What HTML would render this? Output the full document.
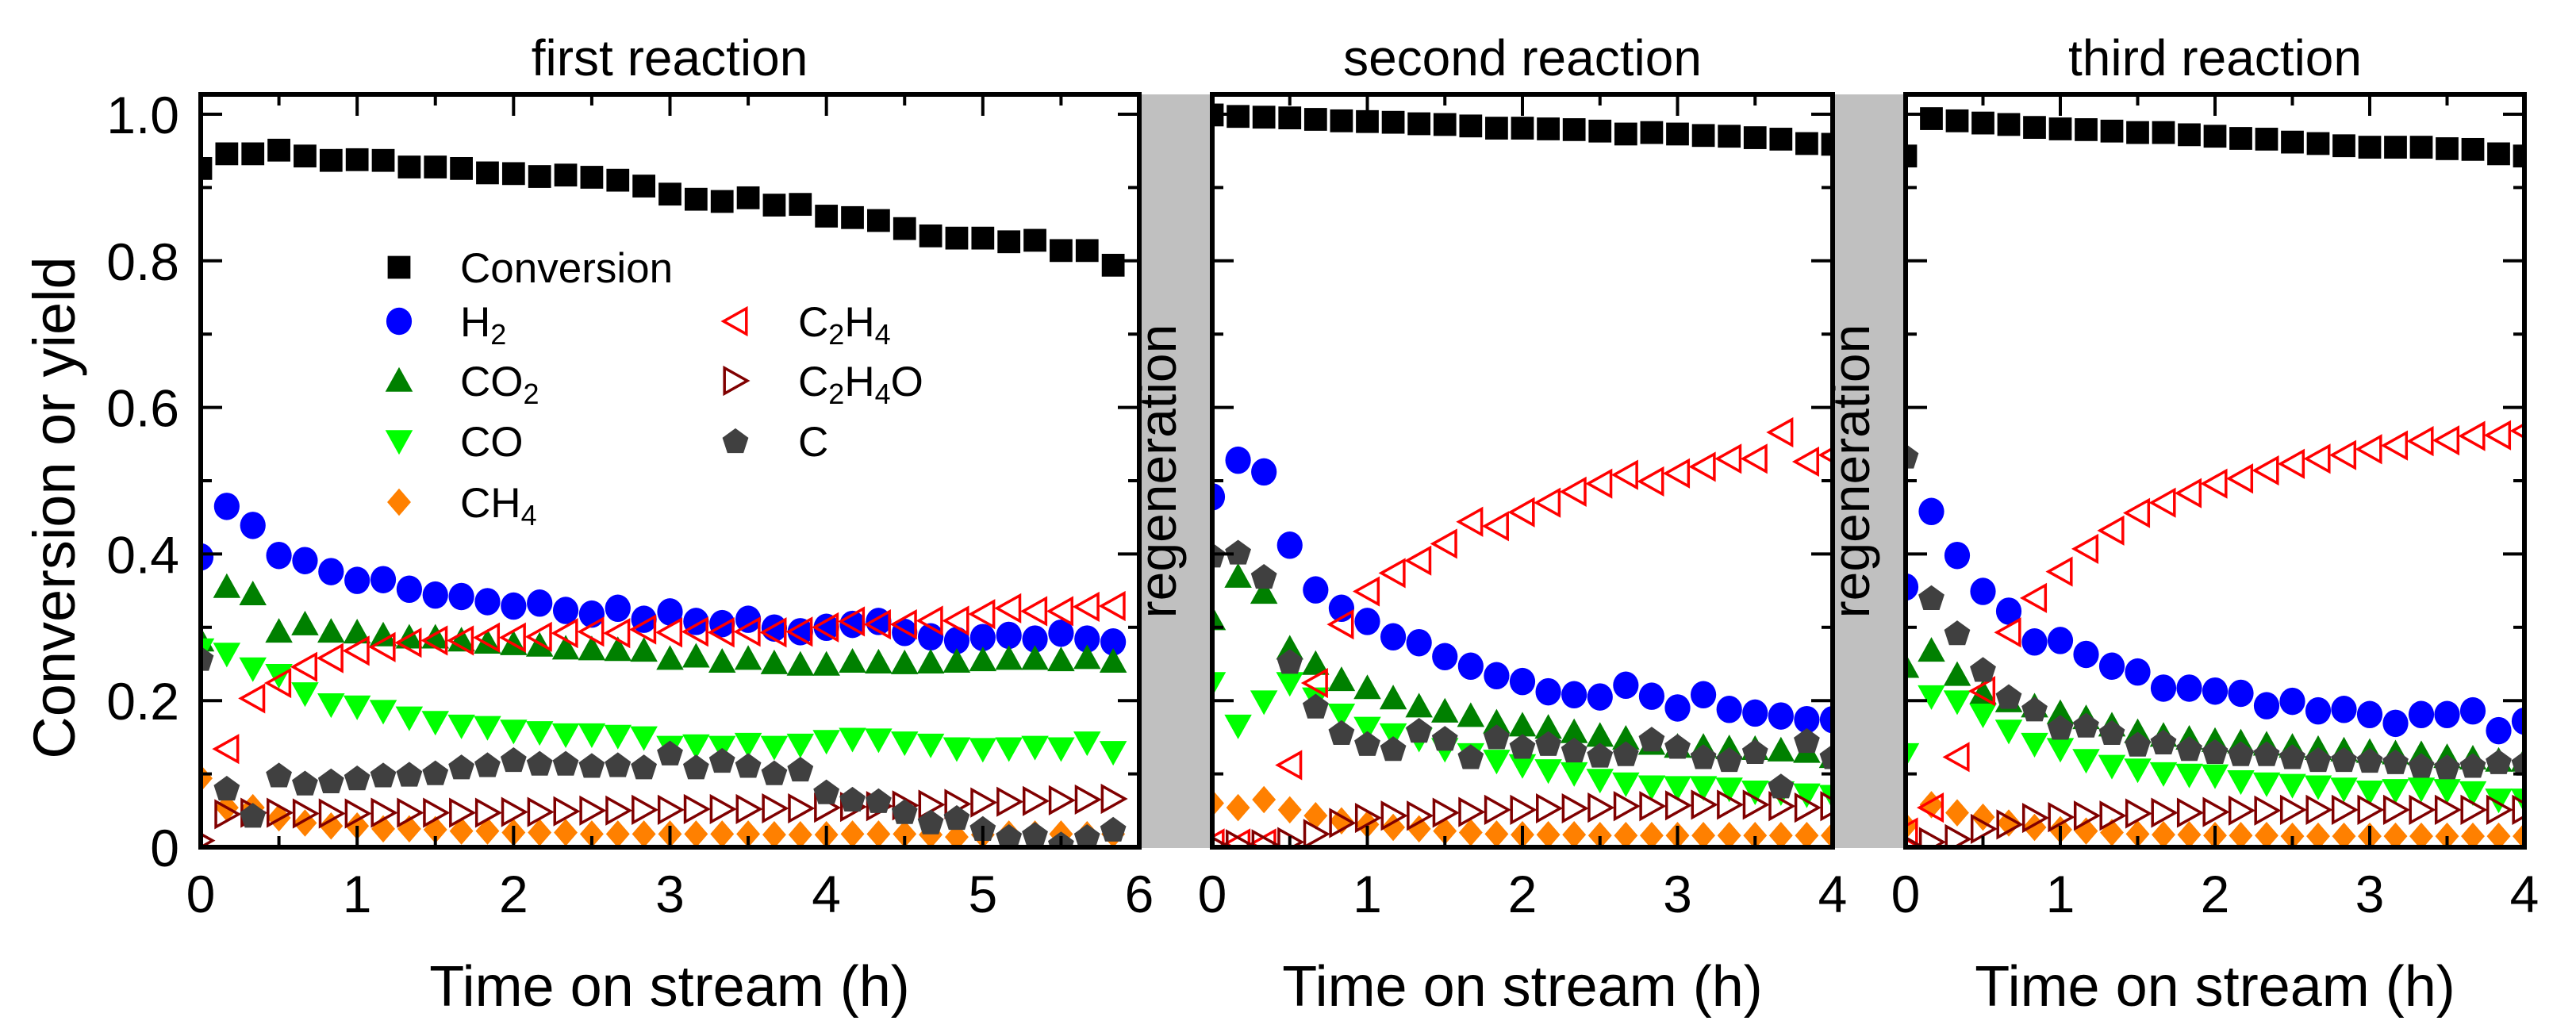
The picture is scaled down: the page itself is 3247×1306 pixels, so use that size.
<!DOCTYPE html>
<html><head><meta charset="utf-8"><style>
html,body{margin:0;padding:0;background:#fff;width:3247px;height:1306px;overflow:hidden}
svg text{font-family:"Liberation Sans",Arial,sans-serif}
</style></head><body>
<svg id="chart" xmlns="http://www.w3.org/2000/svg" width="3247" height="1306" viewBox="0 0 3247 1306">
<rect x="1436" y="119" width="92" height="950" fill="#c0c0c0"/>
<rect x="2310" y="119" width="92" height="950" fill="#c0c0c0"/>
<text x="1504" y="616" font-size="66" text-anchor="middle" transform="rotate(-90 1482 616)">regeneration</text>
<text x="2378" y="616" font-size="66" text-anchor="middle" transform="rotate(-90 2356 616)">regeneration</text>
<text x="844" y="95" font-size="64" text-anchor="middle">first reaction</text>
<text x="1919" y="95" font-size="64" text-anchor="middle">second reaction</text>
<text x="2792" y="95" font-size="64" text-anchor="middle">third reaction</text>
<text x="844" y="1268" font-size="72" text-anchor="middle">Time on stream (h)</text>
<text x="1919" y="1268" font-size="72" text-anchor="middle">Time on stream (h)</text>
<text x="2792" y="1268" font-size="72" text-anchor="middle">Time on stream (h)</text>
<text x="0" y="0" font-size="74" text-anchor="middle" transform="translate(94 640) rotate(-90)">Conversion or yield</text>
<g id="plots"></g>
<g id="legend"></g>
</svg>
<script>
// ---------- data ----------
const seriesNames = ["Conversion","H2","CO2","CO","CH4","C2H4","C2H4O","C"];
const p1Conversion = [.926,.946,.946,.951,.943,.937,.938,.937,.928,.928,.926,.920,.919,.915,.917,.914,.910,.902,.891,.884,.881,.886,.876,.877,.861,.859,.855,.844,.834,.831,.831,.826,.828,.814,.814,.794];
const p1H2 = [.396,.465,.439,.398,.391,.376,.364,.365,.352,.344,.342,.335,.329,.333,.323,.318,.326,.311,.321,.308,.305,.311,.299,.294,.300,.304,.308,.293,.287,.282,.286,.289,.284,.292,.284,.280];
const p1CO2 = [.282,.355,.345,.294,.304,.294,.293,.289,.286,.286,.282,.279,.277,.275,.271,.270,.269,.268,.257,.260,.253,.257,.251,.249,.249,.253,.252,.251,.252,.253,.255,.257,.257,.255,.258,.253];
const p1CO = [.270,.264,.244,.235,.210,.195,.192,.186,.177,.171,.166,.164,.159,.157,.154,.154,.152,.150,.137,.139,.137,.141,.137,.140,.145,.148,.147,.143,.140,.135,.134,.135,.137,.135,.143,.130];
const p1CH4 = [.094,.054,.054,.040,.033,.029,.029,.025,.025,.024,.022,.022,.020,.020,.020,.018,.018,.018,.018,.018,.018,.018,.017,.017,.017,.018,.018,.018,.017,.014,.017,.018,.018,.018,.017,.018];
const p1C2H4 = [null,.134,.203,.224,.246,.258,.268,.273,.279,.282,.282,.286,.286,.287,.292,.294,.292,.297,.293,.294,.293,.294,.293,.294,.300,.308,.304,.304,.309,.309,.318,.326,.322,.322,.328,.329];
const p1C2H4O = [.009,.045,.047,.047,.046,.046,.046,.047,.047,.047,.047,.047,.048,.048,.049,.050,.050,.051,.051,.052,.052,.052,.053,.053,.054,.055,.056,.057,.058,.059,.061,.062,.063,.064,.065,.066];
const p1C = [.257,.080,.043,.098,.087,.090,.094,.098,.099,.101,.109,.112,.119,.114,.114,.111,.112,.109,.128,.109,.118,.111,.101,.106,.075,.065,.063,.048,.034,.040,.025,.014,.017,.004,.014,.024];

const p2Conversion = [.999,.997,.996,.995,.993,.991,.990,.989,.987,.986,.984,.981,.981,.980,.979,.977,.973,.975,.973,.971,.970,.968,.966,.960,.959];
const p2H2 = [.478,.528,.512,.412,.351,.326,.308,.287,.279,.260,.247,.234,.226,.212,.208,.205,.221,.206,.190,.208,.188,.183,.179,.174,.174];
const p2CO2 = [.311,.369,.347,.271,.250,.228,.217,.203,.192,.185,.179,.170,.166,.163,.157,.152,.148,.141,.137,.137,.135,.134,.132,.130,.123];
const p2CO = [.224,.166,.199,.224,.203,.181,.163,.154,.148,.134,.127,.118,.112,.105,.101,.092,.087,.083,.082,.082,.080,.076,.075,.072,.070];
const p2CH4 = [.060,.054,.065,.051,.043,.036,.031,.027,.025,.022,.020,.018,.017,.017,.017,.016,.016,.016,.016,.016,.016,.016,.016,.016,.016];
const p2C2H4 = [.005,.005,.005,.112,.224,.304,.349,.374,.391,.414,.444,.438,.457,.470,.485,.496,.508,.499,.510,.519,.530,.530,.566,.526,.535];
const p2C2H4O = [.004,.004,.004,.007,.018,.033,.040,.043,.043,.047,.048,.051,.051,.053,.053,.054,.056,.056,.057,.058,.058,.058,.056,.054,.056];
const p2C = [.398,.402,.369,.253,.192,.156,.141,.134,.159,.148,.123,.150,.137,.141,.132,.125,.127,.147,.137,.123,.119,.130,.083,.145,.123];

const p3Conversion = [.943,.994,.991,.988,.986,.982,.980,.979,.977,.975,.975,.972,.970,.967,.966,.962,.960,.957,.955,.955,.955,.953,.952,.946,.943];
const p3H2 = [.355,.458,.398,.349,.322,.280,.282,.263,.247,.239,.217,.217,.213,.210,.193,.199,.186,.188,.181,.169,.181,.181,.186,.159,.172];
const p3CO2 = [.246,.268,.235,.210,.199,.192,.183,.176,.166,.157,.152,.148,.145,.143,.140,.137,.134,.132,.130,.128,.127,.123,.121,.118,.118];
const p3CO = [.127,.206,.199,.181,.159,.141,.134,.119,.111,.106,.101,.099,.098,.090,.087,.085,.083,.080,.076,.078,.080,.078,.075,.065,.065];
const p3CH4 = [.029,.058,.047,.041,.033,.027,.024,.022,.020,.018,.017,.017,.016,.016,.016,.015,.015,.015,.015,.015,.015,.015,.015,.015,.015];
const p3C2H4 = [.020,.054,.123,.213,.293,.340,.376,.407,.432,.456,.470,.483,.496,.503,.514,.523,.530,.535,.543,.548,.554,.555,.561,.562,.568];
const p3C2H4O = [.004,.007,.011,.025,.031,.040,.041,.043,.043,.046,.047,.047,.048,.050,.050,.051,.051,.051,.051,.051,.051,.051,.051,.051,.051];
const p3C = [.533,.340,.292,.242,.205,.188,.163,.166,.156,.140,.143,.134,.130,.127,.127,.123,.119,.119,.118,.116,.111,.109,.111,.116,.114];

const timeStep = 1/6;
const yTicks = [0,0.2,0.4,0.6,0.8,1.0];
const yTickLabels = ["0","0.2","0.4","0.6","0.8","1.0"];
const xTicks1 = [0,1,2,3,4,5,6];
const xTicks23 = [0,1,2,3,4];

// ---------- rendering ----------
const NS = "http://www.w3.org/2000/svg";
const svg = document.getElementById('chart');
const plots = document.getElementById('plots');
function mk(tag, attrs, parent){
  const e = document.createElementNS(NS, tag);
  for (const k in attrs) e.setAttribute(k, attrs[k]);
  (parent||plots).appendChild(e);
  return e;
}
const Y0 = 1068, YH = 924;
const MS = 1.15;
function yScale(v){ return Y0 - YH*v; }
const styles = {
  Conversion:{shape:'square',fill:'#000'},
  H2:{shape:'circle',fill:'#0000ff'},
  CO2:{shape:'up',fill:'#008000'},
  CO:{shape:'down',fill:'#00ff00'},
  CH4:{shape:'diamond',fill:'#ff8000'},
  C2H4:{shape:'left',stroke:'#ff0000'},
  C2H4O:{shape:'right',stroke:'#800000'},
  C:{shape:'pent',fill:'#404040'}
};
function marker(g, name, cx, cy){
  const s = styles[name];
  let e;
  const pts = a => a.map(p => (cx+p[0]*MS)+','+(cy+p[1]*MS)).join(' ');
  switch(s.shape){
    case 'square': e = mk('rect',{x:cx-12.5*MS,y:cy-12.5*MS,width:25*MS,height:25*MS,fill:s.fill},g); break;
    case 'circle': e = mk('ellipse',{cx:cx,cy:cy,rx:14*MS,ry:15*MS,fill:s.fill},g); break;
    case 'up': e = mk('polygon',{points:pts([[0,-15],[15,12],[-15,12]]),fill:s.fill},g); break;
    case 'down': e = mk('polygon',{points:pts([[0,15],[15,-12],[-15,-12]]),fill:s.fill},g); break;
    case 'diamond': e = mk('polygon',{points:pts([[0,-15],[13,0],[0,15],[-13,0]]),fill:s.fill},g); break;
    case 'left': e = mk('polygon',{points:pts([[-13,0],[12,-14],[12,14]]),fill:'none',stroke:s.stroke,'stroke-width':3.5},g); break;
    case 'right': e = mk('polygon',{points:pts([[13,0],[-12,-14],[-12,14]]),fill:'none',stroke:s.stroke,'stroke-width':3.5},g); break;
    case 'pent': {
      const a=[]; for(let i=0;i<5;i++){const t=-Math.PI/2+i*2*Math.PI/5; a.push([15*Math.cos(t),15*Math.sin(t)+1]);}
      e = mk('polygon',{points:pts(a),fill:s.fill},g); break;
    }
  }
  return e;
}
const panels = [
  {id:1, x0:253, x1:1436, xmax:6, xTicks:xTicks1, showY:true, series:[p1Conversion,p1H2,p1CO2,p1CO,p1CH4,p1C2H4,p1C2H4O,p1C]},
  {id:2, x0:1528, x1:2310, xmax:4, xTicks:xTicks23, showY:false, series:[p2Conversion,p2H2,p2CO2,p2CO,p2CH4,p2C2H4,p2C2H4O,p2C]},
  {id:3, x0:2402, x1:3182, xmax:4, xTicks:xTicks23, showY:false, series:[p3Conversion,p3H2,p3CO2,p3CO,p3CH4,p3C2H4,p3C2H4O,p3C]}
];
const defs = mk('defs',{},svg);
panels.forEach(p => {
  const xScale = t => p.x0 + (p.x1-p.x0)*t/p.xmax;
  const cp = mk('clipPath',{id:'clip'+p.id},defs);
  mk('rect',{x:p.x0,y:119,width:p.x1-p.x0,height:Y0-119},cp);
  const pg = mk('g',{'clip-path':'url(#clip'+p.id+')'});
  
  
  p.series.forEach((arr, si) => {
    const sg = mk('g',{},pg);
    
    
    arr.forEach((v, k) => {
      if (v === null) return;
      const m = marker(sg, seriesNames[si], xScale(k*timeStep), yScale(v));
      
      
    });
  });
  const fr = mk('rect',{x:p.x0,y:119,width:p.x1-p.x0,height:Y0-119,fill:'none',stroke:'#000','stroke-width':6});
  
  
  for (let t=0; t<=p.xmax+1e-9; t+=0.5){
    const x = xScale(t), major = Math.abs(t-Math.round(t))<1e-9, L = major?27:14;
    const a = mk('line',{x1:x,y1:Y0,x2:x,y2:Y0-L,stroke:'#000','stroke-width':4});
    
    
    const b = mk('line',{x1:x,y1:119,x2:x,y2:119+L,stroke:'#000','stroke-width':4});
    
    
  }
  p.xTicks.forEach(t => {
    const tx = mk('text',{x:xScale(t),y:1150,'font-size':66,'text-anchor':'middle'});
    tx.textContent = String(t);
    
    
  });
  for (let i=0;i<=10;i++){
    const v=i/10, y=yScale(v), L=(i%2===0)?27:14;
    const a = mk('line',{x1:p.x0,y1:y,x2:p.x0+L,y2:y,stroke:'#000','stroke-width':4});
    
    
    const b = mk('line',{x1:p.x1,y1:y,x2:p.x1-L,y2:y,stroke:'#000','stroke-width':4});
    
    
  }
  if (p.showY){
    yTicks.forEach((v,i) => {
      const tx = mk('text',{x:226,y:yScale(v)+24,'font-size':66,'text-anchor':'end'});
      tx.textContent = yTickLabels[i];
      
      
    });
  }
});
const legend = document.getElementById('legend');
const legendItems = [
  ['Conversion',503,337,580,[['Conversion',false]]],
  ['H2',503,405,580,[['H',false],['2',true]]],
  ['CO2',503,480,580,[['CO',false],['2',true]]],
  ['CO',503,556,580,[['CO',false]]],
  ['CH4',503,633,580,[['CH',false],['4',true]]],
  ['C2H4',927,405,1006,[['C',false],['2',true],['H',false],['4',true]]],
  ['C2H4O',927,480,1006,[['C',false],['2',true],['H',false],['4',true],['O',false]]],
  ['C',927,556,1006,[['C',false]]]
];
legendItems.forEach(it => {
  const g = mk('g',{},legend);
  
  
  marker(g, it[0], it[1], it[2]);
  const t = mk('text',{x:it[3],y:it[2]+19,'font-size':53},g);
  it[4].forEach(part => {
    const ts = mk('tspan',{},t);
    if (part[1]) { ts.setAttribute('font-size','36'); ts.setAttribute('dy','10'); }
    else if (t.childNodes.length>1) { ts.setAttribute('dy','-10'); }
    ts.textContent = part[0];
  });
});
</script>
</body></html>
